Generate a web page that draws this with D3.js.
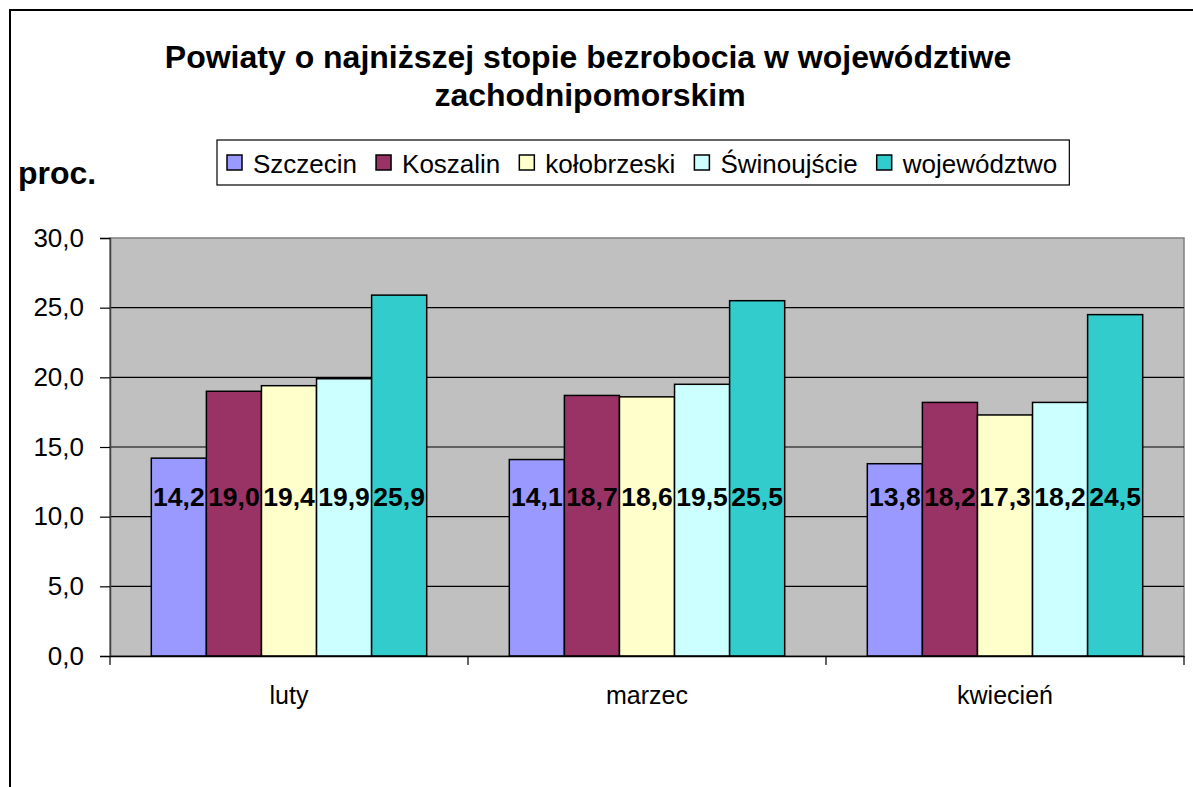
<!DOCTYPE html>
<html>
<head>
<meta charset="utf-8">
<script src="https://cdnjs.cloudflare.com/ajax/libs/d3/7.8.5/d3.min.js"></script>
<style>
  body { margin: 0; background: #fff; }
  svg { display: block; font-family: Arial, "Liberation Sans", sans-serif; }
</style>
</head>
<body>
<div id="chart"></div>
<script>
(function(){
    var width = 1193;
    var height = 787;

    // data
    var months = ["luty", "marzec", "kwiecień"];
    var series = ["Szczecin", "Koszalin", "kołobrzeski", "Świnoujście", "województwo"];
    var szczecin = [14.2, 14.1, 13.8];
    var koszalin = [19.0, 18.7, 18.2];
    var kolobrzeski = [19.4, 18.6, 17.3];
    var swinoujscie = [19.9, 19.5, 18.2];
    var wojewodztwo = [25.9, 25.5, 24.5];
    var yTicks = [0, 5, 10, 15, 20, 25, 30];

    var colors = ["#9999ff", "#993366", "#ffffcc", "#ccffff", "#33cccc"];
    var values = [szczecin, koszalin, kolobrzeski, swinoujscie, wojewodztwo];

    var rows = [];
    months.forEach(function(m, i){
        series.forEach(function(s, j){
            rows.push({month: m, series: s, value: values[j][i]});
        });
    });

    var plot = {left: 110, right: 1184, top: 238, bottom: 656};

    var svg = d3.select("#chart")
        .append("svg")
        .attr("width", width)
        .attr("height", height);

    // outer chart border
    svg.append("path")
        .attr("d", "M10," + (height + 5) + "V10H" + (width + 5))
        .attr("fill", "none")
        .attr("stroke", "#000")
        .attr("stroke-width", 2);

    var x0 = d3.scaleBand().domain(months)
        .range([plot.left, plot.right])
        .paddingInner(0).paddingOuter(0);
    // gap between groups = 1.5 bar widths
    var gapBars = 1.5;
    var x1 = d3.scaleBand().domain(series)
        .range([x0.bandwidth() * (gapBars / 2) / (5 + gapBars), x0.bandwidth() * (1 - (gapBars / 2) / (5 + gapBars))])
        .paddingOuter(0).paddingInner(0);

    var y = d3.scaleLinear().domain([0, 30]).range([plot.bottom, plot.top]);

    // plot background
    svg.append("rect")
        .attr("x", plot.left).attr("y", plot.top)
        .attr("width", plot.right - plot.left)
        .attr("height", plot.bottom - plot.top)
        .attr("fill", "#c0c0c0")
        .attr("stroke", "#808080")
        .attr("stroke-width", 1.5);

    // gridlines
    svg.selectAll(".grid")
        .data(yTicks.filter(function(t){ return t > 0 && t < 30; }))
        .enter().append("line")
        .attr("class", "grid")
        .attr("x1", plot.left).attr("x2", plot.right)
        .attr("y1", function(d){ return y(d); })
        .attr("y2", function(d){ return y(d); })
        .attr("stroke", "#000")
        .attr("stroke-width", 1.2);

    // y axis
    var yAxis = d3.axisLeft(y)
        .tickValues(yTicks)
        .tickSize(10)
        .tickPadding(16)
        .tickFormat(function(d){ return d3.format(".1f")(d).replace(".", ","); });
    var gy = svg.append("g")
        .attr("transform", "translate(" + plot.left + ",0)")
        .call(yAxis);
    gy.select(".domain").attr("stroke", "#404040").attr("stroke-width", 1.5);
    gy.selectAll(".tick line").attr("stroke", "#000").attr("stroke-width", 1.2);
    gy.selectAll(".tick text")
        .attr("font-size", "26px")
        .attr("font-family", "Arial, 'Liberation Sans', sans-serif")
        .attr("fill", "#000");

    // bars
    var groups = svg.selectAll(".month")
        .data(months)
        .enter().append("g")
        .attr("class", "month")
        .attr("transform", function(d){ return "translate(" + x0(d) + ",0)"; });

    groups.selectAll("rect")
        .data(function(m){ return rows.filter(function(r){ return r.month === m; }); })
        .enter().append("rect")
        .attr("x", function(d){ return x1(d.series); })
        .attr("y", function(d){ return y(d.value); })
        .attr("width", x1.bandwidth())
        .attr("height", function(d){ return y(0) - y(d.value); })
        .attr("fill", function(d){ return colors[series.indexOf(d.series)]; })
        .attr("stroke", "#000")
        .attr("stroke-width", 1.5);

    var labelLevel = 10.8;
    groups.selectAll(".val")
        .data(function(m){ return rows.filter(function(r){ return r.month === m; }); })
        .enter().append("text")
        .attr("class", "val")
        .attr("x", function(d){ return x1(d.series) + x1.bandwidth() / 2; })
        .attr("y", y(labelLevel))
        .attr("text-anchor", "middle")
        .attr("font-size", "26.5px")
        .attr("font-weight", "bold")
        .text(function(d){ return d3.format(".1f")(d.value).replace(".", ","); });

    // x axis
    var xAxis = d3.axisBottom(x0).tickSize(0).tickPadding(30);
    var gx = svg.append("g")
        .attr("transform", "translate(0," + plot.bottom + ")")
        .call(xAxis);
    gx.select(".domain").attr("stroke", "#000").attr("stroke-width", 1.5);
    gx.selectAll(".tick text")
        .attr("font-size", "25px")
        .attr("font-family", "Arial, 'Liberation Sans', sans-serif")
        .attr("fill", "#000");
    var bounds = months.map(function(m){ return x0(m); }).concat([plot.right]);
    gx.selectAll(".sep")
        .data(bounds)
        .enter().append("line")
        .attr("class", "sep")
        .attr("x1", function(d){ return d; }).attr("x2", function(d){ return d; })
        .attr("y1", 0).attr("y2", 9)
        .attr("stroke", "#000").attr("stroke-width", 1.2);

    // title
    var title = svg.append("text")
        .attr("text-anchor", "middle")
        .attr("font-size", "32px")
        .attr("font-weight", "bold");
    title.append("tspan").attr("x", 588).attr("y", 68)
        .text("Powiaty o najniższej stopie bezrobocia w województiwe");
    title.append("tspan").attr("x", 590).attr("y", 106)
        .text("zachodnipomorskim");

    // y axis title
    svg.append("text")
        .attr("x", 18).attr("y", 184)
        .attr("font-size", "32px")
        .attr("font-weight", "bold")
        .text("proc.");

    // legend
    var legend = svg.append("g");
    var legendBox = legend.append("rect")
        .attr("x", 217).attr("y", 140)
        .attr("height", 45)
        .attr("fill", "#fff")
        .attr("stroke", "#000")
        .attr("stroke-width", 1.2);
    var lx = 227;
    series.forEach(function(s, i){
        legend.append("rect")
            .attr("x", lx).attr("y", 155)
            .attr("width", 15).attr("height", 15)
            .attr("fill", colors[i])
            .attr("stroke", "#000")
            .attr("stroke-width", 1.5);
        var t = legend.append("text")
            .attr("x", lx + 26).attr("y", 173)
            .attr("font-size", "26px")
            .text(s);
        lx += 26 + t.node().getComputedTextLength() + 19;
    });
    legendBox.attr("width", lx - 19 + 12 - 217);
})();
</script>
</body>
</html>
